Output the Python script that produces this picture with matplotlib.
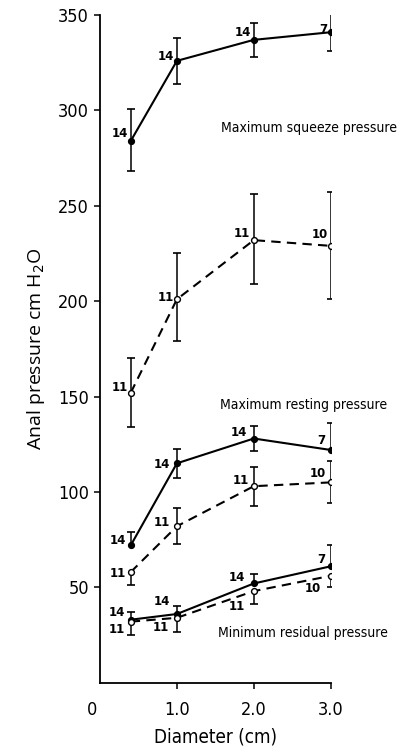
import numpy as np
import matplotlib
matplotlib.use("Agg")
import matplotlib.pyplot as plt
from matplotlib import font_manager
from matplotlib.transforms import ScaledTranslation

# Probe diameter (cm)
diameter = [0.4, 1.0, 2.0, 3.0]

# Maximum squeeze pressure (solid line, filled markers)
squeeze = [284, 326, 337, 341]
squeeze_lo = [16, 12, 9, 10]
squeeze_hi = [17, 12, 9, 10.5]
squeeze_n = [14, 14, 14, 7]

# Maximum resting pressure, upper curve (dashed, open markers)
rest_a = [152, 201, 232, 229]
rest_a_lo = [18, 22, 23, 28]
rest_a_hi = [18, 24, 24, 28]
rest_a_n = [11, 11, 11, 10]

# Maximum resting pressure, solid curve
rest_b = [72, 115, 128, 122]
rest_b_lo = [0, 7.5, 6.5, 0]
rest_b_hi = [7, 7.5, 6.5, 14]
rest_b_n = [14, 14, 14, 7]

# Maximum resting pressure, lower dashed curve
rest_c = [58, 82, 103, 105]
rest_c_lo = [7, 9.5, 10.5, 11]
rest_c_hi = [0, 9.5, 10, 11]
rest_c_n = [11, 11, 11, 10]

# Minimum residual pressure
resid_b = [33, 36, 52, 61]
resid_b_lo = [0, 0, 0, 0]
resid_b_hi = [4, 4, 5, 11]
resid_b_n = [14, 14, 14, 7]

resid_c = [32, 34, 48, 56]
resid_c_lo = [7, 7.5, 6.5, 6]
resid_c_hi = [0, 0, 0, 0]
resid_c_n = [11, 11, 11, 10]

x_ticks = [0, 1.0, 2.0, 3.0]
x_ticklabels = ["0", "1.0", "2.0", "3.0"]
y_ticks = [50, 100, 150, 200, 250, 300, 350]

names = {f.name for f in font_manager.fontManager.ttflist}
narrow = dict(family="DejaVu Sans", stretch="condensed")
humanist = "Open Sans" if "Open Sans" in names else "DejaVu Sans"

fig = plt.figure(figsize=(4.06, 7.53), dpi=100)
ax = fig.add_axes([0.2463, 0.0934, 0.8145 - 0.2463, 0.980 - 0.0934])
ax.set_xlim(0, 3.0)
ax.set_ylim(0, 350)

for s in ("top", "right"):
    ax.spines[s].set_visible(False)
for s in ("left", "bottom"):
    ax.spines[s].set_linewidth(1.3)

PX = 72 / 100  # points per pixel


def series(y, lo, hi, n, filled, dashed, offsets):
    x = np.array(diameter)
    y = np.array(y, float)
    lo = np.array(lo, float)
    hi = np.array(hi, float)
    ax.vlines(x, y - lo, y + hi, color="black", lw=1.1, zorder=2)
    m_lo = lo > 0
    m_hi = hi > 0
    for m, ends in ((m_lo, y - lo), (m_hi, y + hi)):
        ax.plot(x[m], ends[m], ls="none", marker="_", ms=6,
                mew=1.2, color="black", zorder=2)
    ax.plot(x, y, color="black", lw=1.5, ls=(0, (4.5, 3)) if dashed else "-",
            zorder=3)
    ax.plot(x, y, ls="none", marker="o", ms=4.2,
            mfc="black" if filled else "white", mec="black", mew=1.0, zorder=4)
    for xi, yi, ni, (dx, dy) in zip(x, y, n, offsets):
        ax.annotate(str(ni), (xi, yi), xytext=(dx * PX, dy * PX),
                    textcoords="offset points", ha="right", va="center",
                    fontsize=8.5, fontweight="bold", family="DejaVu Sans")


series(squeeze, squeeze_lo, squeeze_hi, squeeze_n, True, False,
       [(-3, 7), (-3, 4), (-3, 7), (-3, 3)])
series(rest_a, rest_a_lo, rest_a_hi, rest_a_n, False, True,
       [(-3, 5), (-3, 2), (-4, 7), (-3, 11)])
series(rest_b, rest_b_lo, rest_b_hi, rest_b_n, True, False,
       [(-5, 5), (-7, -1), (-7, 6), (-5, 9)])
series(rest_c, rest_c_lo, rest_c_hi, rest_c_n, False, True,
       [(-5, -1), (-7, 4), (-5, 6), (-5, 9)])
series(resid_b, resid_b_lo, resid_b_hi, resid_b_n, True, False,
       [(-6, 7), (-7, 13), (-9, 6), (-5, 7)])
series(resid_c, resid_c_lo, resid_c_hi, resid_c_n, False, True,
       [(-6, -8), (-8, -10), (-9, -15), (-10, -13)])

ax.text(1.58, 291, "Maximum squeeze pressure", fontsize=10, va="center", ha="left", **narrow)
ax.text(1.56, 145.5, "Maximum resting pressure", fontsize=10, va="center", ha="left", **narrow)
ax.text(1.53, 26.2, "Minimum residual pressure", fontsize=10, va="center", ha="left", **narrow)

ax.set_xticks(x_ticks)
ax.set_xticklabels(x_ticklabels, **narrow)
ax.set_yticks(y_ticks)
ax.set_yticklabels([str(v) for v in y_ticks], **narrow)
ax.tick_params(axis="both", direction="out", length=4, width=1.1, labelsize=13,
               pad=4)
ax.tick_params(axis="x", pad=9)
ax.xaxis.get_major_ticks()[0].tick1line.set_visible(False)
xt = ax.get_xticklabels()[0]
xt.set_transform(xt.get_transform() + ScaledTranslation(-8 / 100, 0, fig.dpi_scale_trans))

ax.set_xlabel("Diameter (cm)", fontsize=13.5, labelpad=6, **narrow)
ax.set_ylabel("Anal pressure cm H$_2$O", fontsize=14, family=humanist, labelpad=8)

fig.savefig("out.png", dpi=100)
